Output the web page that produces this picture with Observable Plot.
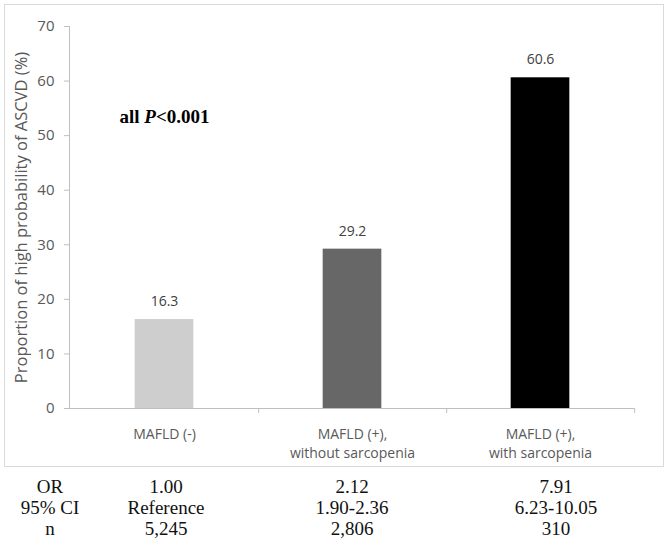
<!DOCTYPE html>
<html>
<head>
<meta charset="utf-8">
<script src="https://cdn.jsdelivr.net/npm/d3@7"></script>
<script src="https://cdn.jsdelivr.net/npm/@observablehq/plot@0.6"></script>
<style>
  html, body { margin: 0; padding: 0; background: #fff; }
  #wrap { position: relative; width: 667px; height: 552px; overflow: hidden; }
  #border { position: absolute; left: 4px; top: 4px; width: 660px; height: 463px; box-sizing: border-box; border: 1px solid #d9d9d9; pointer-events: none; }
  #table { display: grid; grid-template-columns: 100px 132px 240px 168px; margin-top: 6px;
           font-family: "Liberation Serif", "Times New Roman", serif; font-size: 19px; line-height: 21px; color: #111; }
  #table div { text-align: center; white-space: nowrap; }
</style>
</head>
<body>
<div id="wrap">
  <div id="chart"></div>
  <div id="table"></div>
  <div id="border"></div>
</div>
<script>
// ---- data ----
const categories = ["MAFLD (-)", "MAFLD (+),\nwithout sarcopenia", "MAFLD (+),\nwith sarcopenia"];
const proportions = [16.3, 29.2, 60.6];
const barColors = ["#cecece", "#676767", "#000000"];
const yTicks = [0, 10, 20, 30, 40, 50, 60, 70];
const yTitle = "Proportion of high probability of ASCVD (%)";
const pText = "all P<0.001";
const pTextY = 53.5;
const rowLabels = ["OR", "95% CI", "n"];
const orValues = ["1.00", "2.12", "7.91"];
const ciValues = ["Reference", "1.90-2.36", "6.23-10.05"];
const nValues = ["5,245", "2,806", "310"];

const data = categories.map((c, i) => ({category: c, value: proportions[i], color: barColors[i]}));

const width = 667, height = 470;
const marginLeft = 69, marginRight = 33, marginTop = 26, marginBottom = 62;
const bw = (width - marginLeft - marginRight) / categories.length;
const barWidth = 59;
const inset = (bw - barWidth) / 2;

const sans = "'Open Sans', Lato, sans-serif";

const chart = Plot.plot({
  width, height, marginLeft, marginRight, marginTop, marginBottom,
  style: {fontFamily: sans, color: "#595959", background: "transparent"},
  x: {domain: categories, padding: 0, axis: null},
  y: {domain: [0, 70], axis: null},
  marks: [
    Plot.frame({anchor: "left", stroke: "#bfbfbf"}),
    Plot.axisY({ticks: yTicks, tickSize: 5, tickFormat: () => "", color: "#bfbfbf", label: null}),
    Plot.axisY({ticks: yTicks, tickSize: 0, tickPadding: 15, fontSize: 15, color: "#595959", label: null}),
    Plot.axisX({tickSize: 5, tickFormat: () => "", dx: bw / 2, color: "#bfbfbf", label: null}),
    Plot.axisX({tickSize: 0, tickPadding: 18, fontSize: 14, lineHeight: 1.3, color: "#595959", label: null}),
    Plot.barY(data, {x: "category", y: "value", fill: "color", insetLeft: inset, insetRight: inset}),
    Plot.ruleY([0], {stroke: "#bfbfbf"}),
    Plot.text(data, {x: "category", y: "value", text: d => d.value.toFixed(1), dy: -18, fontSize: 14, fill: "#404040"}),
    Plot.text([yTitle], {frameAnchor: "left", textAnchor: "middle", rotate: -90, dx: -48, fontSize: 16.5, fill: "#595959"}),
    Plot.text([pText], {x: () => categories[0], y: () => pTextY, fontSize: 19, fontWeight: "bold",
      fontFamily: "'Liberation Serif', 'Times New Roman', serif", fill: "#000", className: "ptext"})
  ]
});
document.getElementById("chart").appendChild(chart);

// italicize P in the annotation
chart.querySelectorAll(".ptext text").forEach(t => {
  const s = t.textContent;
  const i = s.indexOf("P");
  if (i >= 0) {
    t.textContent = "";
    const ns = "http://www.w3.org/2000/svg";
    const a = document.createElementNS(ns, "tspan"); a.textContent = s.slice(0, i);
    const b = document.createElementNS(ns, "tspan"); b.textContent = "P"; b.setAttribute("font-style", "italic");
    const c = document.createElementNS(ns, "tspan"); c.textContent = s.slice(i + 1);
    t.append(a, b, c);
  }
});

// bottom table
const table = document.getElementById("table");
[[rowLabels[0], ...orValues], [rowLabels[1], ...ciValues], [rowLabels[2], ...nValues]].forEach(row => {
  row.forEach(cell => {
    const d = document.createElement("div");
    d.textContent = cell;
    table.appendChild(d);
  });
});
</script>
</body>
</html>
